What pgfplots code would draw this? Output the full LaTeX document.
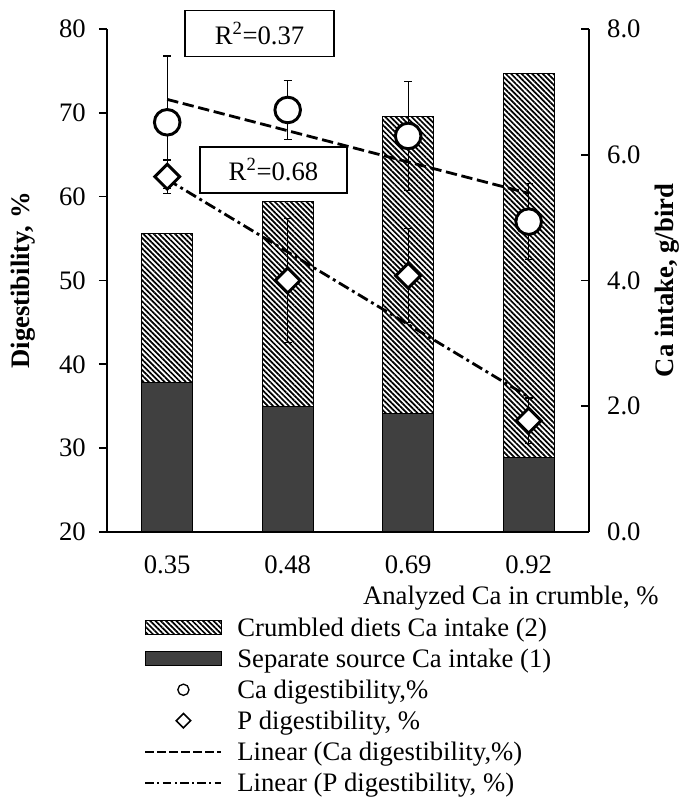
\documentclass[border=0pt]{standalone}
\usepackage{fontspec}
\setmainfont{Liberation Serif}
\usepackage{pgfplots}
\pgfplotsset{compat=1.18}
\usetikzlibrary{patterns.meta}

\definecolor{darkfill}{RGB}{64,64,64}
\tikzset{hatch/.style={pattern={Lines[angle=-45,distance=2.8pt,line width=1.3pt]}, pattern color=black}}

\pgfplotsset{
  base/.style={
    width=361.5pt, height=377.25pt, scale only axis,
    xmin=0.5, xmax=4.5,
    /pgf/number format/assume math mode=true,
    major tick length=6pt,
    axis line style={line width=1.2pt},
    every tick/.style={line width=1.2pt, black},
  }
}

\begin{document}
\begin{tikzpicture}[font=\fontsize{20pt}{24pt}\selectfont]

% right axis: Ca intake bars
\begin{axis}[base,
    ymin=0, ymax=8, ytick={0,2,4,6,8},
    axis x line=none, axis y line*=right,
    tick align=inside,
    yticklabel style={anchor=west, inner sep=0pt, xshift=13.5pt,
      /pgf/number format/fixed, /pgf/number format/fixed zerofill,
      /pgf/number format/precision=1},
    ylabel={\textbf{Ca intake, g/bird}},
    every axis y label/.style={at={(axis description cs:1.162,0.5)}, rotate=90, anchor=center},
    ybar stacked, bar width=38.25pt,
  ]
  \addplot[fill=darkfill, draw=black, line width=0.75pt]
    coordinates {(1,2.38) (2,2.00) (3,1.88) (4,1.18)};
  \addplot[hatch, draw=black, line width=0.75pt]
    coordinates {(1,2.36) (2,3.26) (3,4.73) (4,6.11)};
\end{axis}

% left axis: digestibility
\begin{axis}[base,
    ymin=20, ymax=80, ytick={20,30,...,80},
    axis x line*=bottom, axis y line*=left,
    tick align=outside,
    xtick={1,2,3,4}, xticklabels={0.35,0.48,0.69,0.92},
    xtick style={draw=none},
    xticklabel style={anchor=base, inner sep=0pt, yshift=-25.5pt},
    yticklabel style={anchor=east, inner sep=0pt, xshift=-9.75pt},
    xlabel={Analyzed Ca in crumble, \%},
    every axis x label/.style={at={(axis description cs:0.838,-0.1451)}, anchor=base},
    ylabel={\textbf{Digestibility, \%}},
    every axis y label/.style={at={(axis description cs:-0.1743,0.5)}, rotate=90, anchor=center},
    clip=false,
    legend cell align=left,
    legend style={draw=none, fill=none, inner sep=0pt, outer sep=0pt,
      at={(axis description cs:0.0777,-0.1601)}, anchor=north west,
      column sep=11.25pt, row sep=0pt,
      nodes={inner sep=0pt, text height=18.2pt, text depth=5pt}},
  ]
  % Ca digestibility
  \addplot[forget plot, only marks, mark=*, mark size=9.6pt,
    mark options={fill=white, draw=black, line width=2.2pt},
    error bars/.cd, y dir=both, y explicit,
    error bar style={line width=1pt, black},
    error mark options={rotate=90, mark size=3pt, line width=1pt, black}]
    coordinates {(1,68.87) +- (0,7.9) (2,70.34) +- (0,3.55) (3,67.24) +- (0,6.5) (4,57.02) +- (0,4.55)};
  % P digestibility
  \addplot[forget plot, only marks, mark=square*, mark size=6.6pt,
    mark options={rotate=45, fill=white, draw=black, line width=2.2pt},
    error bars/.cd, y dir=both, y explicit,
    error bar style={line width=1pt, black},
    error mark options={rotate=90, mark size=3pt, line width=1pt, black}]
    coordinates {(1,62.38) +- (0,2.0) (2,50.0) +- (0,7.4) (3,50.57) +- (0,5.6) (4,33.28) +- (0,2.7)};
  % trend lines
  \addplot[forget plot, line width=2.1pt, dash pattern=on 8.5pt off 3.5pt]
    coordinates {(1,71.6) (4,60.4)};
  \addplot[forget plot, line width=2.1pt, dash pattern=on 8.5pt off 3pt on 2.2pt off 3pt]
    coordinates {(1,62.05) (4,36.1)};

  \node[draw, fill=white, line width=0.9pt, minimum width=111.75pt, minimum height=34.5pt]
    at (axis cs:1.766,79.5) {R\textsuperscript{2}=0.37};
  \node[draw, fill=white, line width=0.9pt, minimum width=110.25pt, minimum height=34.5pt]
    at (axis cs:1.882,63.18) {R\textsuperscript{2}=0.68};

  \addlegendimage{legend image code/.code={\draw[hatch, draw=black, line width=0.75pt] (0pt,-5.25pt) rectangle (57pt,5.25pt);}}
  \addlegendentry{Crumbled diets Ca intake (2)}
  \addlegendimage{legend image code/.code={\draw[fill=darkfill, draw=black, line width=0.75pt] (0pt,-5.25pt) rectangle (57pt,5.25pt);}}
  \addlegendentry{Separate source Ca intake (1)}
  \addlegendimage{legend image code/.code={\draw[line width=1pt, fill=white] (28.5pt,0pt) circle (4.2pt);}}
  \addlegendentry{Ca digestibility,\%}
  \addlegendimage{legend image code/.code={\draw[line width=1.2pt, fill=white] (28.5pt,5.4pt) -- (33.9pt,0pt) -- (28.5pt,-5.4pt) -- (23.1pt,0pt) -- cycle;}}
  \addlegendentry{P digestibility, \%}
  \addlegendimage{legend image code/.code={\draw[line width=1.5pt, dash pattern=on 6.5pt off 2.5pt] (0pt,0pt) -- (57pt,0pt);}}
  \addlegendentry{Linear (Ca digestibility,\%)}
  \addlegendimage{legend image code/.code={\draw[line width=1.5pt, dash pattern=on 6.5pt off 2.5pt on 1.5pt off 2.5pt] (0pt,0pt) -- (57pt,0pt);}}
  \addlegendentry{Linear (P digestibility, \%)}
\end{axis}

\path[use as bounding box] (-80.25pt,-199.5pt) rectangle (432pt,399pt);
\end{tikzpicture}
\end{document}
